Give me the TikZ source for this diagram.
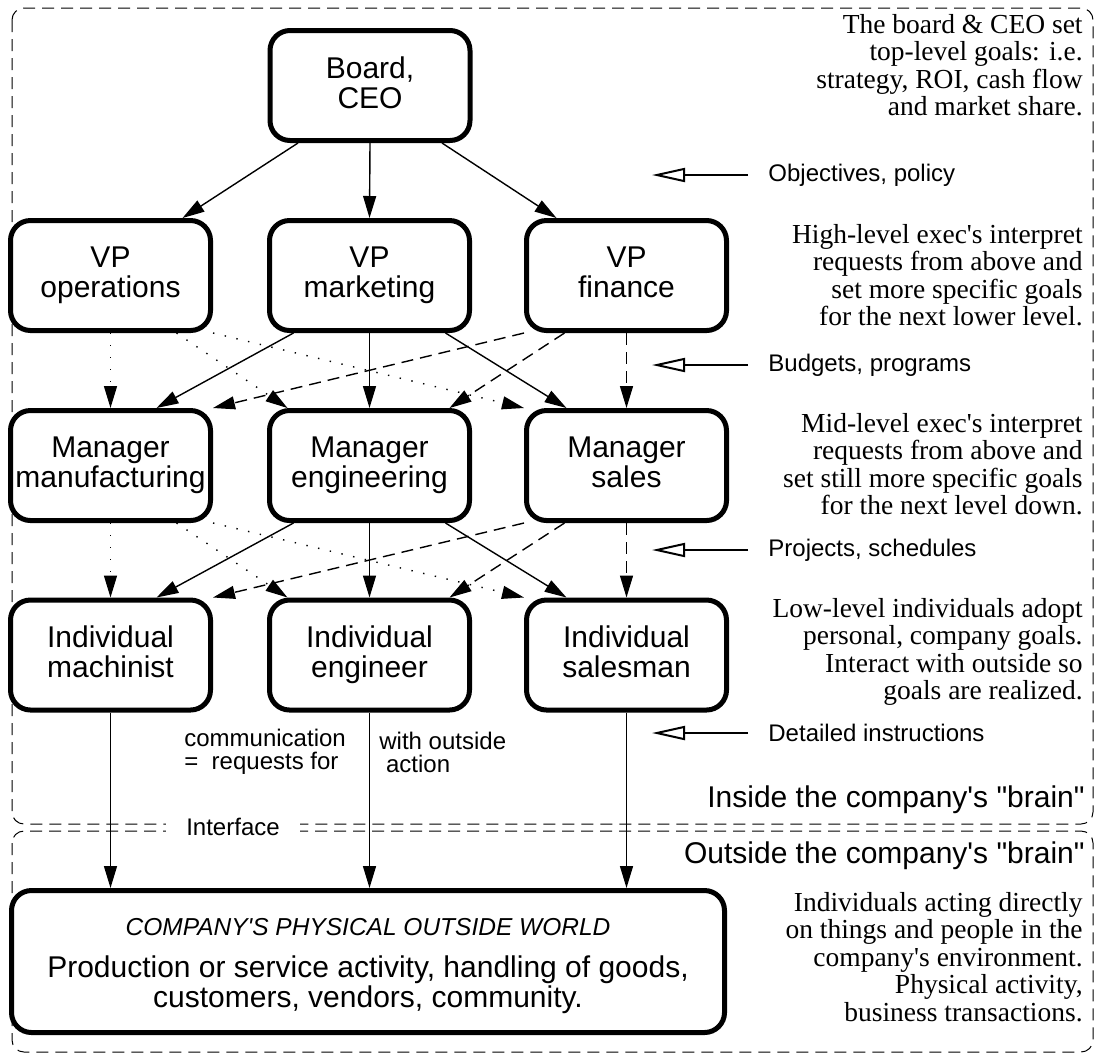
\documentclass[tikz,border=0pt]{standalone}
\usepackage{fontspec}
\setmainfont{Liberation Sans}
\newfontfamily\plainfont{Liberation Sans}
\newfontfamily\notefont{Liberation Serif}
\usepackage{tikz}
\usetikzlibrary{arrows.meta}
\usetikzlibrary{calc}
\newcommand{\apos}{\textquotesingle}

\begin{document}
\begin{tikzpicture}[x=0.5pt, y=-0.5pt, >={Triangle[length=11pt,width=6.5pt]},
box/.style={draw, line width=2.5pt, rounded corners=10pt, fill=white, minimum width=100pt, minimum height=55pt, inner sep=1pt, align=center, font=\fontsize{15}{15}\selectfont, execute at end node={\vphantom{g}}},
link/.style={->, line width=0.7pt},
dashlink/.style={link, dash pattern=on 6pt off 3.5pt},
dotlink/.style={link, dash pattern=on 0.7pt off 5.3pt},
brain/.style={dash pattern=on 6pt off 3.5pt, line width=0.5pt, rounded corners=6pt},
note/.style={anchor=east, inner sep=0, align=right, font=\notefont\fontsize{13.75}{13.75}\selectfont},
level/.style={anchor=west, inner xsep=10pt, inner ysep=0, font=\fontsize{12}{12}\selectfont},
levelarrow/.style={-{Triangle[open, length=16.5pt, width=7pt, line width=1pt]}, line width=0.6pt},
side/.style={anchor=east, inner sep=0, font=\plainfont\fontsize{15}{15}\selectfont},
comm/.style={anchor=west, inner sep=0, align=left, font=\fontsize{12}{11.5}\selectfont}]

% SIZE OF THE PICTURE
\useasboundingbox (0,0) rectangle (1096,1057);
%%%%%%%%% INSIDE / OUTSIDE %%%%%%%%%
\draw[brain] (12,8) rectangle (1093,824);
\draw[brain] (12,831) rectangle (1093,1052);
\node[fill=white, inner xsep=10pt, inner ysep=2pt, font=\fontsize{12}{12}\selectfont] (iface) at (233,827) {Interface};
\node[side] (inside) at (1085,800) {Inside the company's "brain"};
\node[side] (outside) at (1085,856) {Outside the company's "brain"};
%%%%%%%%% BOXES %%%%%%%%%
\node[box] (board) at (370,85.5) {Board,\\CEO};
% VP ROW
\node[box] (vpOps) at (110.5,275.5) {VP\\operations};
\node[box] (vpMkt) at (369.5,275.5) {VP\\marketing};
\node[box] (vpFin) at (626.5,275.5) {VP\\finance};
% MANAGER ROW
\node[box] (mgrMfg) at (110.5,465.5) {Manager\\manufacturing};
\node[box] (mgrEng) at (369.5,465.5) {Manager\\engineering};
\node[box] (mgrSal) at (626.5,465.5) {Manager\\sales};
% INDIVIDUAL ROW
\node[box] (indMach) at (110.5,655) {Individual\\machinist};
\node[box] (indEng) at (369.5,655) {Individual\\engineer};
\node[box] (indSal) at (626.5,655) {Individual\\salesman};
% OUTSIDE WORLD
\node[box, minimum width=356.5pt, minimum height=71pt, execute at end node={}] (world) at (368,961.5) {};
\node[font=\fontsize{12.25}{12}\selectfont\itshape] (worldHead) at (368,927) {COMPANY\apos S PHYSICAL OUTSIDE WORLD};
\node[align=center, font=\fontsize{15}{15}\selectfont] (worldText) at (368,985) {Production or service activity, handling of goods,\\customers, vendors, community.};
%%%%%%%%% LINKS %%%%%%%%%
\draw[link] ($(board.south)+(-72,0)$) -- ($(vpOps.north)+(72,0)$);
\draw[link] (board.south) -- (vpMkt.north);
\draw[link] ($(board.south)+(72,0)$) -- ($(vpFin.north)+(-70,0)$);
% VP -> MANAGER
\draw[dotlink] (vpOps.south) -- (mgrMfg.north);
\draw[dotlink] ($(vpOps.south)+(66,0)$) -- ($(mgrEng.north)+(-82,0)$);
\draw[dotlink] (vpOps.south east) -- (mgrSal.north west);
\draw[link] ($(vpMkt.south)+(-76,0)$) -- ($(mgrMfg.north)+(46,0)$);
\draw[link] (vpMkt.south) -- (mgrEng.north);
\draw[link] ($(vpMkt.south)+(76,0)$) -- ($(mgrSal.north)+(-60,0)$);
\draw[dashlink] (vpFin.south west) -- (mgrMfg.north east);
\draw[dashlink] ($(vpFin.south)+(-62,0)$) -- ($(mgrEng.north)+(80,0)$);
\draw[dashlink] (vpFin.south) -- (mgrSal.north);
% MANAGER -> INDIVIDUAL
\draw[dotlink] (mgrMfg.south) -- (indMach.north);
\draw[dotlink] ($(mgrMfg.south)+(66,0)$) -- ($(indEng.north)+(-82,0)$);
\draw[dotlink] (mgrMfg.south east) -- (indSal.north west);
\draw[link] ($(mgrEng.south)+(-76,0)$) -- ($(indMach.north)+(46,0)$);
\draw[link] (mgrEng.south) -- (indEng.north);
\draw[link] ($(mgrEng.south)+(76,0)$) -- ($(indSal.north)+(-60,0)$);
\draw[dashlink] (mgrSal.south west) -- (indMach.north east);
\draw[dashlink] ($(mgrSal.south)+(-62,0)$) -- ($(indEng.north)+(80,0)$);
\draw[dashlink] (mgrSal.south) -- (indSal.north);
% INDIVIDUAL -> WORLD
\draw[link] (indMach) -- (indMach |- world.north);
\draw[link] (indEng) -- (indEng |- world.north);
\draw[link] (indSal) -- (indSal |- world.north);
\node[comm] (commL) at (184,752) {communication\\=\ \ requests for};
\node[comm] (commR) at (379,752) {with outside\\\ action};
%%%%%%%%% LEVELS %%%%%%%%%
\coordinate (objTip) at (652,175);
\coordinate (budTip) at (652,365);
\coordinate (proTip) at (652,550);
\coordinate (detTip) at (652,733);
\node[level] (objLbl) at (748,175) {Objectives, policy};
\node[level] (budLbl) at (748,365) {Budgets, programs};
\node[level] (proLbl) at (748,550) {Projects, schedules};
\node[level] (detLbl) at (748,733) {Detailed instructions};
\draw[levelarrow] (objLbl.west) -- (objTip);
\draw[levelarrow] (budLbl.west) -- (budTip);
\draw[levelarrow] (proLbl.west) -- (proTip);
\draw[levelarrow] (detLbl.west) -- (detTip);
%%%%%%%%% NOTES %%%%%%%%%
\node[note] (noteTop) at (1083,65) {The board \& CEO set\\top-level goals: i.e.\\strategy, ROI, cash flow\\and market share.};
\node[note] (noteHigh) at (1083,275) {High-level exec's interpret\\requests from above and\\set more specific goals\\for the next lower level.};
\node[note] (noteMid) at (1083,464) {Mid-level exec's interpret\\requests from above and\\set still more specific goals\\for the next level down.};
\node[note] (noteLow) at (1083,652) {Low-level individuals adopt\\personal, company goals.\\Interact with outside so\\goals are realized.};
\node[note] (noteOut) at (1083,957) {Individuals acting directly\\on things and people in the\\company's environment.\\Physical activity,\\business transactions.};
\end{tikzpicture}
\end{document}
